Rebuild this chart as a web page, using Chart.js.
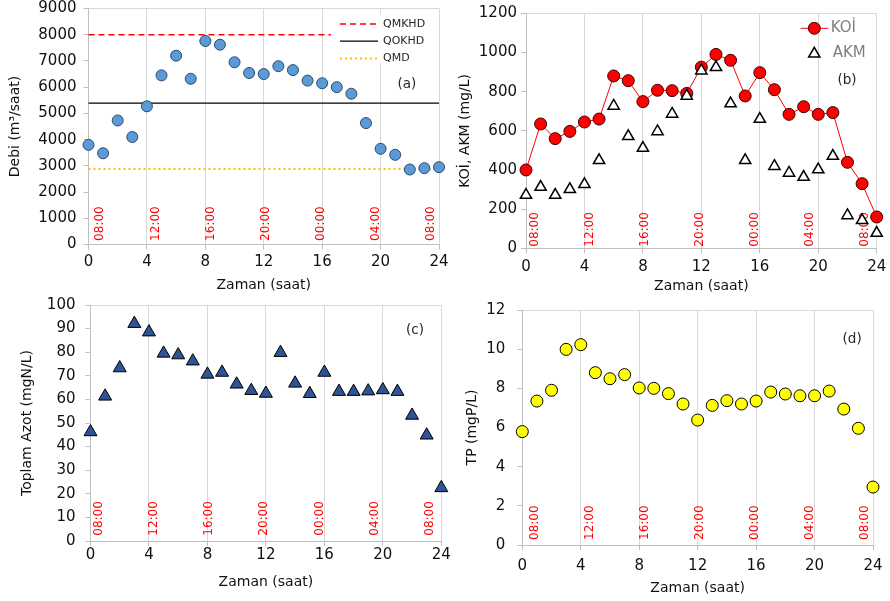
<!DOCTYPE html>
<html>
<head>
<meta charset="utf-8">
<script src="https://cdn.jsdelivr.net/npm/chart.js@4/dist/chart.umd.min.js"></script>
<style>
  html, body { margin: 0; padding: 0; background: #ffffff; }
  #wrap { position: relative; width: 890px; height: 601px; overflow: hidden; }
  #wrap canvas { position: absolute; left: 0; top: 0; }
</style>
</head>
<body>
<div id="wrap">
  <canvas id="panelA" width="890" height="601"></canvas>
  <canvas id="panelB" width="890" height="601"></canvas>
  <canvas id="panelC" width="890" height="601"></canvas>
  <canvas id="panelD" width="890" height="601"></canvas>
</div>
<script>
// Sampling hours (0 = 08:00 on the first day, 24 = 08:00 on the next day)
const hours = [0, 1, 2, 3, 4, 5, 6, 7, 8, 9, 10, 11, 12, 13, 14, 15, 16, 17, 18, 19, 20, 21, 22, 23, 24];

// (a) Flow, m3/saat
const debi = [3800, 3480, 4730, 4100, 5270, 6450, 7200, 6320, 7760, 7620, 6950, 6540, 6500,
              6800, 6650, 6250, 6150, 6000, 5750, 4630, 3650, 3420, 2860, 2910, 2950];
const qmkhd = 8000;   // QMKHD
const qokhd = 5390;   // QOKHD
const qmd = 2880;     // QMD

// (b) KOİ and AKM, mg/L
const koi = [400, 635, 560, 597, 645, 660, 880, 856, 749, 807, 805, 791, 925,
             990, 960, 778, 897, 810, 684, 723, 684, 693, 439, 330, 160];
const akm = [272, 313, 272, 301, 327, 449, 727, 572, 512, 597, 686, 778, 907,
             924, 739, 449, 660, 419, 385, 364, 402, 471, 168, 143, 78];

// (c) Total nitrogen, mgN/L
const toplamAzot = [46.2, 61.3, 73.3, 92.1, 88.5, 79.5, 78.8, 76.2, 70.6, 71.4, 66.4, 63.7, 62.5,
                    79.8, 66.8, 62.4, 71.4, 63.3, 63.3, 63.5, 64.0, 63.3, 53.2, 44.8, 22.5];

// (d) Total phosphorus, mgP/L
const tp = [5.79, 7.35, 7.90, 9.99, 10.23, 8.80, 8.49, 8.70, 8.02, 8.00, 7.73, 7.20, 6.38,
            7.13, 7.37, 7.20, 7.35, 7.81, 7.71, 7.62, 7.62, 7.86, 6.94, 5.96, 2.96];

// Clock time written along the bottom of every panel
const clockLabels = ["08:00", "12:00", "16:00", "20:00", "00:00", "04:00", "08:00"];

const FONT = "'DejaVu Sans', sans-serif";
const W = 890, H = 601;

const toPoints = (ys) => hours.map((h, i) => ({ x: h, y: ys[i] }));
const flat = (v) => [{ x: 0, y: v }, { x: 24, y: v }];

function zeroPad(s) { s.paddingTop = 0; s.paddingBottom = 0; s.paddingLeft = 0; s.paddingRight = 0; }

function markerPath(ctx, style, x, y, r) {
  ctx.beginPath();
  if (style === 'triangle') {
    for (let k = 0; k < 3; k++) {
      const a = -Math.PI / 2 + k * 2 * Math.PI / 3;
      const px = x + r * Math.cos(a), py = y + r * Math.sin(a);
      if (k === 0) ctx.moveTo(px, py); else ctx.lineTo(px, py);
    }
    ctx.closePath();
  } else {
    ctx.arc(x, y, r, 0, Math.PI * 2);
  }
}

function decor(p) {
  return {
    id: 'decor',
    beforeDatasetsDraw(chart) {
      const { ctx, chartArea } = chart;
      const xs = chart.scales.x;
      ctx.save();
      ctx.fillStyle = '#FF0000';
      ctx.font = '12px ' + FONT;
      ctx.textAlign = 'left';
      ctx.textBaseline = 'middle';
      clockLabels.forEach((t, i) => {
        const px = xs.getPixelForValue(p.clock.start + i * p.clock.step);
        ctx.save();
        ctx.translate(px, chartArea.bottom - p.clock.lift);
        ctx.rotate(-Math.PI / 2);
        ctx.fillText(t, 0, 0);
        ctx.restore();
      });
      ctx.restore();
    },
    afterDatasetsDraw(chart) {
      const { ctx, chartArea } = chart;
      const xs = chart.scales.x, ys = chart.scales.y;
      ctx.save();
      if (p.legend) p.legend(ctx, chartArea, chart);
      ctx.fillStyle = '#262626';
      ctx.font = '13.5px ' + FONT;
      ctx.textAlign = 'center';
      ctx.textBaseline = 'middle';
      ctx.fillText(p.tag.text, xs.getPixelForValue(p.tag.x), ys.getPixelForValue(p.tag.y));
      ctx.restore();
    }
  };
}

function panel(id, p) {
  const padBottom = H - p.xTitleY - 8.4;
  p.datasets.forEach((d) => { d.clip = false; });
  return new Chart(document.getElementById(id), {
    type: 'scatter',
    data: { datasets: p.datasets },
    options: {
      responsive: false,
      animation: false,
      devicePixelRatio: 1,
      layout: {
        autoPadding: false,
        padding: { left: p.padLeft, top: p.area.top, right: W - p.area.right, bottom: padBottom }
      },
      plugins: { legend: { display: false }, tooltip: { enabled: false } },
      scales: {
        x: {
          type: 'linear', min: 0, max: 24,
          afterFit(s) { s.height = H - padBottom - p.area.bottom; zeroPad(s); },
          ticks: { stepSize: 4, autoSkip: false, maxRotation: 0, color: '#111111',
                   font: { family: FONT, size: 15 }, padding: p.xTickPad,
                   callback: (v) => String(v) },
          grid: { color: '#D9D9D9', lineWidth: 1, tickColor: '#BFBFBF', tickLength: 5 },
          border: { color: '#BFBFBF', width: 1 },
          title: { display: true, text: 'Zaman (saat)', color: '#111111',
                   font: { family: FONT, size: 14, lineHeight: 1.2 }, padding: 0 }
        },
        y: {
          type: 'linear', min: 0, max: p.yMax,
          afterFit(s) { s.width = p.area.left - p.padLeft; zeroPad(s); },
          ticks: { stepSize: p.yStep, color: '#111111', font: { family: FONT, size: 15 },
                   padding: p.yTickPad, callback: (v) => String(v) },
          grid: {
            drawOnChartArea: true,
            color: (c) => (c.tick && c.tick.value === p.yMax) ? '#D9D9D9' : 'rgba(0,0,0,0)',
            tickColor: '#BFBFBF', tickLength: 5
          },
          border: { color: '#BFBFBF', width: 1 },
          title: { display: true, text: p.yTitle, color: '#111111',
                   font: { family: FONT, size: 14, lineHeight: 1.2 },
                   padding: { top: p.yTitleX - p.padLeft - 8.4, bottom: 0 } }
        }
      }
    },
    plugins: [decor(p)]
  });
}

// (a) Debi
panel('panelA', {
  area: { left: 88.5, top: 8.5, right: 439, bottom: 244.5 },
  padLeft: 0, yTitleX: 15, xTitleY: 285, xTickPad: 4, yTickPad: 7,
  yMax: 9000, yStep: 1000, yTitle: 'Debi (m³/saat)',
  clock: { start: 0.81, step: 3.77, lift: 3.6 },
  tag: { text: '(a)', x: 21.8, y: 6100 },
  datasets: [
    { label: 'Debi', data: toPoints(debi), pointStyle: 'circle', pointRadius: 5.5,
      pointBackgroundColor: '#5B9BD5', pointBorderColor: '#2A4A70', pointBorderWidth: 1 },
    { label: 'QMKHD', data: flat(qmkhd), showLine: true, pointRadius: 0,
      borderColor: '#FF0000', borderWidth: 1.5, borderDash: [6, 4] },
    { label: 'QOKHD', data: flat(qokhd), showLine: true, pointRadius: 0,
      borderColor: '#000000', borderWidth: 1.2 },
    { label: 'QMD', data: flat(qmd), showLine: true, pointRadius: 0,
      borderColor: '#FFC000', borderWidth: 2, borderDash: [2, 3] }
  ],
  legend(ctx, area, chart) {
    const r = area.right, t = area.top;
    ctx.fillStyle = '#ffffff';
    ctx.fillRect(r - 108, t + 6, 108, 48);
    ctx.font = '11px ' + FONT;
    ctx.textBaseline = 'middle';
    ctx.textAlign = 'left';
    [1, 2, 3].forEach((di, k) => {
      const ds = chart.data.datasets[di];
      const y = t + 15.5 + k * 17.2;
      ctx.strokeStyle = ds.borderColor;
      ctx.lineWidth = ds.borderWidth;
      ctx.setLineDash(ds.borderDash || []);
      ctx.beginPath(); ctx.moveTo(r - 99, y); ctx.lineTo(r - 61, y); ctx.stroke();
      ctx.setLineDash([]);
      ctx.fillStyle = '#262626';
      ctx.fillText(ds.label, r - 56, y);
    });
  }
});

// (b) KOİ, AKM
panel('panelB', {
  area: { left: 526, top: 13.3, right: 876.7, bottom: 248.3 },
  padLeft: 450, yTitleX: 465, xTitleY: 286, xTickPad: 5, yTickPad: 4,
  yMax: 1200, yStep: 200, yTitle: 'KOİ, AKM (mg/L)',
  clock: { start: 0.59, step: 3.77, lift: 1.6 },
  tag: { text: '(b)', x: 21.97, y: 859 },
  datasets: [
    { label: 'AKM', data: toPoints(akm), pointStyle: 'triangle', pointRadius: 6.5,
      pointBackgroundColor: '#FFFFFF', pointBorderColor: '#000000', pointBorderWidth: 1.5 },
    { label: 'KOİ', data: toPoints(koi), showLine: true, borderColor: '#FF0000', borderWidth: 1,
      pointStyle: 'circle', pointRadius: 6, pointBackgroundColor: '#FF0000',
      pointBorderColor: '#3A0000', pointBorderWidth: 1 }
  ],
  legend(ctx, area) {
    const r = area.right, t = area.top;
    ctx.font = '15px ' + FONT;
    ctx.textBaseline = 'middle';
    ctx.textAlign = 'left';
    // KOİ entry
    let y = t + 15;
    ctx.strokeStyle = '#FF0000'; ctx.lineWidth = 1;
    ctx.beginPath(); ctx.moveTo(r - 76, y); ctx.lineTo(r - 48.4, y); ctx.stroke();
    ctx.fillStyle = '#FF0000'; ctx.strokeStyle = '#3A0000';
    markerPath(ctx, 'circle', r - 62.4, y, 6); ctx.fill(); ctx.stroke();
    ctx.fillStyle = '#7F7F7F';
    ctx.fillText('KOİ', r - 46, y);
    // AKM entry
    y = t + 39.5;
    ctx.fillStyle = '#FFFFFF'; ctx.strokeStyle = '#000000'; ctx.lineWidth = 1.5;
    markerPath(ctx, 'triangle', r - 62.4, y + 1, 6.5); ctx.fill(); ctx.stroke();
    ctx.fillStyle = '#7F7F7F';
    ctx.fillText('AKM', r - 44, y);
  }
});

// (c) Toplam Azot
panel('panelC', {
  area: { left: 90.5, top: 305, right: 441.3, bottom: 541 },
  padLeft: 0, yTitleX: 27, xTitleY: 582, xTickPad: 0, yTickPad: 10,
  yMax: 100, yStep: 10, yTitle: 'Toplam Azot (mgN/L)',
  clock: { start: 0.58, step: 3.77, lift: 5.3 },
  tag: { text: '(c)', x: 22.2, y: 89.4 },
  datasets: [
    { label: 'Toplam Azot', data: toPoints(toplamAzot), pointStyle: 'triangle', pointRadius: 7.5,
      pointBackgroundColor: '#2F5496', pointBorderColor: '#000000', pointBorderWidth: 1 }
  ]
});

// (d) TP
panel('panelD', {
  area: { left: 522.3, top: 310, right: 873, bottom: 545 },
  padLeft: 450, yTitleX: 472, xTitleY: 588, xTickPad: 7, yTickPad: 12,
  yMax: 12, yStep: 2, yTitle: 'TP (mgP/L)',
  clock: { start: 0.85, step: 3.77, lift: 5 },
  tag: { text: '(d)', x: 22.57, y: 10.49 },
  datasets: [
    { label: 'TP', data: toPoints(tp), pointStyle: 'circle', pointRadius: 6,
      pointBackgroundColor: '#FFFF00', pointBorderColor: '#000000', pointBorderWidth: 1 }
  ]
});
</script>
</body>
</html>
